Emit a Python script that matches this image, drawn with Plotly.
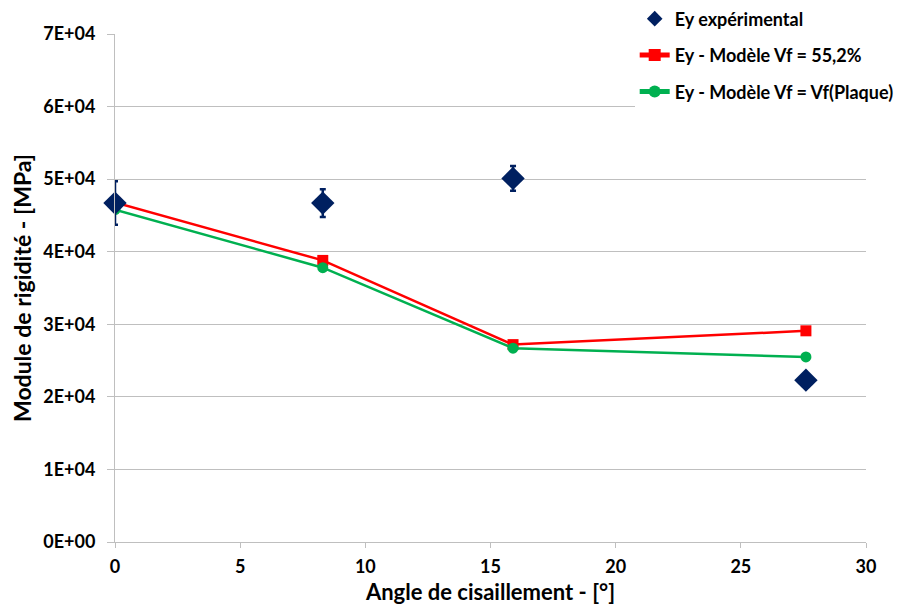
import plotly.graph_objects as go

# experimental points
exp_angle = [0, 8.3, 15.9, 27.6]
exp_modulus = [46700, 46700, 50100, 22300]
exp_err = [3000, 1900, 1700, 800]

# model Vf = 55,2%
model_angle = [0, 8.3, 15.9, 27.6]
model_552 = [46800, 38800, 27200, 29100]

# model Vf = Vf(Plaque)
model_plaque = [45800, 37800, 26700, 25500]

y_ticks = [0, 10000, 20000, 30000, 40000, 50000, 60000, 70000]
y_labels = ["0E+00", "1E+04", "2E+04", "3E+04", "4E+04", "5E+04", "6E+04", "7E+04"]

font_family = "Lato, 'Open Sans', sans-serif"
grid = "#bfbfbf"

fig = go.Figure()

fig.add_trace(
    go.Scatter(
        name="Ey - Modèle Vf = 55,2%",
        x=model_angle,
        y=model_552,
        mode="lines+markers",
        line=dict(color="#ff0000", width=2.5),
        marker=dict(symbol="square", size=11, color="#ff0000"),
        legendrank=2,
        legendgroup="a",
    )
)
fig.add_trace(
    go.Scatter(
        name="Ey - Modèle Vf = Vf(Plaque)",
        x=model_angle,
        y=model_plaque,
        mode="lines+markers",
        line=dict(color="#00b050", width=2.5),
        marker=dict(symbol="circle", size=11, color="#00b050"),
        legendrank=3,
        legendgroup="b",
    )
)
fig.add_trace(
    go.Scatter(
        name="Ey expérimental",
        x=exp_angle,
        y=exp_modulus,
        mode="markers",
        marker=dict(symbol="diamond", size=18, color="#002060"),
        error_y=dict(type="data", array=exp_err, color="#002060", thickness=2.5, width=3),
        cliponaxis=False,
        legendrank=1,
        legendgroup="c",
    )
)

# the page has an 8px body margin, so the figure is a bit smaller than the window
fig.update_layout(
    width=896,
    height=597,
    margin=dict(l=107, r=38, t=26, b=63, autoexpand=False),
    plot_bgcolor="white",
    paper_bgcolor="white",
    font=dict(family=font_family, color="black"),
    showlegend=True,
    legend=dict(
        x=0.692,
        y=1.066,
        xanchor="left",
        yanchor="top",
        bgcolor="white",
        font=dict(size=18, family=font_family, weight="bold"),
        itemwidth=30,
        itemsizing="constant",
        tracegroupgap=10,
    ),
)

fig.update_xaxes(
    range=[0, 30],
    tickvals=[0, 5, 10, 15, 20, 25, 30],
    showgrid=False,
    zeroline=False,
    showline=True,
    linecolor=grid,
    linewidth=1,
    ticks="outside",
    tickcolor=grid,
    ticklen=5,
    ticklabelstandoff=3,
    tickfont=dict(size=18, weight="bold"),
    title=dict(text="Angle de cisaillement - [°]", font=dict(size=22, weight="bold"), standoff=14),
)
fig.update_yaxes(
    range=[0, 70000],
    tickvals=y_ticks,
    ticktext=y_labels,
    showgrid=True,
    gridcolor=grid,
    zeroline=False,
    showline=True,
    linecolor=grid,
    linewidth=1,
    ticks="outside",
    tickcolor=grid,
    ticklen=7,
    ticklabelstandoff=8,
    tickfont=dict(size=18, weight="bold"),
    title=dict(text="Module de rigidité - [MPa]", font=dict(size=23, weight="bold"), standoff=10),
)

fig.write_html("out.html")
